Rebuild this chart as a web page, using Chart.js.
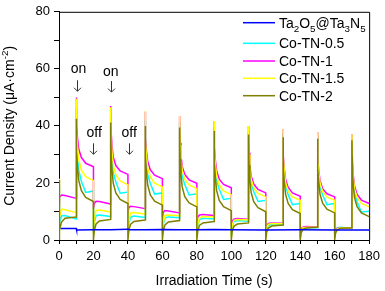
<!DOCTYPE html>
<html>
<head>
<meta charset="utf-8">
<script src="https://cdn.jsdelivr.net/npm/chart.js@4.4.1/dist/chart.umd.min.js"></script>
<style>
  html, body { margin: 0; padding: 0; background: #fff; }
  canvas { display: block; }
</style>
</head>
<body>
<canvas id="chart" width="385" height="291"></canvas>
<script>
// series names, as in the legend
const seriesNames = ['Ta₂O₅@Ta₃N₅', 'Co-TN-0.5', 'Co-TN-1', 'Co-TN-1.5', 'Co-TN-2'];
const seriesColors = ['#0000ff', '#00ffff', '#ff00ff', '#ffff00', '#808000'];

// bare Ta2O5@Ta3N5 film
const blueTime = [1, 10, 10.2, 20, 30, 40, 41, 50, 60, 70, 80, 90, 100, 120, 140, 160, 180];
const blueCurrent = [4.0, 4.0, 3.5, 3.6, 3.6, 3.8, 3.6, 3.6, 3.7, 3.6, 3.6, 3.7, 3.6, 3.5, 3.6, 3.5, 3.5];

// time axis for the Co-TN samples (light off 0-10, on 10-20, ...)
const time = [
    0,
    0, 0.5, 1.5, 3.5, 10,  10, 10.3, 10.8, 11.5, 13, 15.5, 20,
    20, 20.5, 21.5, 23.5, 30,  30, 30.3, 30.8, 31.5, 33, 35.5, 40,
    40, 40.5, 41.5, 43.5, 50,  50, 50.3, 50.8, 51.5, 53, 55.5, 60,
    60, 60.5, 61.5, 63.5, 70,  70, 70.3, 70.8, 71.5, 73, 75.5, 80,
    80, 80.5, 81.5, 83.5, 90,  90, 90.3, 90.8, 91.5, 93, 95.5, 100,
    100, 100.5, 101.5, 103.5, 110,  110, 110.3, 110.8, 111.5, 113, 115.5, 120,
    120, 120.5, 121.5, 123.5, 130,  130, 130.3, 130.8, 131.5, 133, 135.5, 140,
    140, 140.5, 141.5, 143.5, 150,  150, 150.3, 150.8, 151.5, 153, 155.5, 160,
    160, 160.5, 161.5, 163.5, 170,  170, 170.3, 170.8, 171.5, 173, 175.5, 180
];

const coTN05 = [
    19,
    3, 6, 8.4, 8.6, 7.4,  46, 34.5, 28.7, 24.4, 20.5, 16.7, 17.2,
    2.5, 6, 8.6, 8.8, 8.2,  44, 33.1, 27.7, 23.6, 20.3, 16.4, 16.8,
    2, 5.5, 8.0, 8.4, 7.9,  42, 31.8, 26.7, 22.9, 19.8, 16.1, 16.5,
    2, 5.5, 7.8, 8.1, 7.8,  41, 31.1, 26.1, 22.4, 19.4, 15.8, 16.2,
    1.5, 5, 7.2, 7.6, 7.4,  39.5, 29.5, 24.6, 20.8, 17.8, 14.2, 14.6,
    1.5, 4.6, 6.4, 6.8, 6.6,  38, 28.4, 23.5, 19.9, 17.0, 13.5, 13.9,
    1.5, 4.0, 5.1, 5.4, 5.3,  37, 27.3, 22.5, 18.9, 15.9, 12.4, 12.8,
    1, 3.2, 4.1, 4.3, 4.3,  36, 26.7, 22.1, 18.6, 15.8, 12.4, 12.8,
    1, 3.3, 4.3, 4.5, 4.0,  35.5, 25.3, 20.3, 16.5, 13.4, 9.8, 10.1
];

const coTN1 = [
    15.5,
    12.5, 15, 15.8, 15.6, 14.6,  50, 40.3, 35.4, 31.8, 28.9, 26.9, 25.7,
    11, 12.8, 13.6, 13.5, 12.6,  47, 37.4, 32.6, 29, 26.1, 24.2, 23,
    9.5, 11.3, 11.8, 11.7, 11.0,  45, 35.6, 30.9, 27.4, 24.6, 22.7, 21.5,
    8, 9.6, 10.3, 10.2, 9.5,  43.5, 34.1, 29.3, 25.8, 23.0, 21.1, 19.9,
    6, 8, 8.8, 8.9, 8.6,  41.7, 32.3, 27.7, 24.2, 21.3, 19.5, 18.3,
    5, 6.6, 7.3, 7.5, 7.3,  40, 30.6, 25.9, 22.4, 19.6, 17.7, 16.5,
    3.5, 5.0, 5.8, 6.0, 5.9,  38.8, 29.4, 24.7, 21.2, 18.4, 16.5, 15.3,
    2.5, 3.8, 4.5, 4.7, 4.6,  37.7, 28.7, 24.1, 20.8, 18.0, 16.2, 15.1,
    2, 3.5, 4.1, 4.3, 4.2,  37.1, 27.4, 22.5, 18.9, 16.0, 14.0, 12.8
];

const coTN15 = [
    21.5,
    2, 8, 10.8, 10.6, 9.6,  49.5, 38.0, 32.3, 28.0, 24.5, 22.2, 20.8,
    2, 7.5, 10.4, 10.5, 9.8,  46.5, 35.6, 30.2, 26.1, 22.8, 20.7, 19.3,
    1.5, 6.5, 9.4, 9.6, 9.1,  45.2, 34.6, 29.2, 25.3, 22.1, 19.9, 18.6,
    1.5, 6, 8.6, 8.8, 8.5,  43.5, 33.3, 28.2, 24.4, 21.3, 19.3, 18.0,
    1, 5.5, 7.8, 8.2, 8.1,  41.7, 31.4, 26.2, 22.4, 19.3, 17.2, 15.9,
    1, 5, 6.9, 7.2, 7.1,  40, 30.0, 25.1, 21.3, 18.3, 16.3, 15.1,
    1, 4.2, 5.5, 5.8, 5.7,  38.8, 28.8, 23.9, 20.1, 17.1, 15.1, 13.9,
    0.5, 3.2, 4.2, 4.5, 4.5,  37.7, 28.2, 23.4, 19.9, 17.0, 15.1, 13.9,
    0.5, 3, 4.0, 4.3, 4.3,  37.1, 26.9, 21.8, 18.0, 14.9, 12.9, 11.6
];

const coTN2 = [
    21,
    0, 3.5, 6.3, 7.6, 8.1,  42.5, 30.9, 25.1, 20.8, 17.3, 14.9, 13.5,
    0, 3.4, 5.6, 6.7, 7.2,  41.2, 29.8, 24.2, 19.9, 16.5, 14.2, 12.8,
    0, 3.3, 5.5, 6.5, 7.0,  40, 28.9, 23.3, 19.2, 15.8, 13.6, 12.2,
    0, 3.2, 5.3, 6.3, 6.8,  39.4, 28.3, 22.7, 18.6, 15.2, 13.0, 11.6,
    0, 3.1, 5.1, 6.0, 6.5,  38.2, 27.0, 21.5, 17.3, 13.9, 11.7, 10.3,
    0, 3, 4.8, 5.6, 6.0,  37, 26.2, 20.7, 16.7, 13.4, 11.3, 9.9,
    0, 2.7, 4.2, 4.9, 5.3,  36, 25.3, 20.0, 16.0, 12.8, 10.6, 9.3,
    0, 2.4, 3.7, 4.2, 4.5,  35.5, 25.1, 19.9, 16.0, 12.9, 10.8, 9.5,
    0, 2.4, 3.6, 4.1, 4.3,  35, 24.3, 18.9, 14.9, 11.7, 9.5, 8.2
];

// "on"/"off" notes and their arrows, in data units
const noteText = ['on', 'on', 'off', 'off'];
const noteX = [11.3, 30, 20.4, 40.7];
const noteY = [59.8, 58.8, 37.6, 37.6];
const arrowX = [10.4, 30, 20, 40.4];
const arrowY = [53.9, 53.6, 31.8, 31.8];

const FONT = "'Liberation Sans', Arial, sans-serif";

function toPoints(xs, ys) {
    return xs.map((x, i) => ({x: x, y: ys[i]}));
}

// draws text where unicode sub/superscript digits become small shifted glyphs
const subMap = {'₀':'0','₁':'1','₂':'2','₃':'3','₄':'4','₅':'5','₆':'6','₇':'7','₈':'8','₉':'9'};
const supMap = {'⁻':'-','²':'2','³':'3'};
function richParts(text) {
    const parts = [];
    for (const ch of text) {
        let mode = 0, c = ch;
        if (subMap[ch]) { mode = 1; c = subMap[ch]; }
        else if (supMap[ch]) { mode = -1; c = supMap[ch]; }
        const last = parts[parts.length - 1];
        if (last && last.mode === mode) last.t += c;
        else parts.push({t: c, mode: mode});
    }
    return parts;
}
function richWidth(ctx, parts, size) {
    let w = 0;
    parts.forEach(p => {
        ctx.font = (p.mode ? size * 0.7 : size) + 'px ' + FONT;
        w += ctx.measureText(p.t).width;
    });
    return w;
}
function drawRich(ctx, text, x, y, size) {
    const parts = richParts(text);
    ctx.textBaseline = 'alphabetic';
    ctx.textAlign = 'left';
    parts.forEach(p => {
        ctx.font = (p.mode ? size * 0.7 : size) + 'px ' + FONT;
        const dy = p.mode === 1 ? size * 0.3 : (p.mode === -1 ? -size * 0.42 : 0);
        ctx.fillText(p.t, x, y + dy);
        x += ctx.measureText(p.t).width;
    });
}

const extras = {
    id: 'extras',
    afterDraw(chart) {
        const {ctx, chartArea: a, scales: {x, y}} = chart;
        ctx.save();
        // box around the plot
        ctx.strokeStyle = '#000';
        ctx.lineWidth = 1;
        ctx.beginPath();
        ctx.moveTo(a.left, a.top + 0.5);
        ctx.lineTo(a.right + 0.5, a.top + 0.5);
        ctx.lineTo(a.right + 0.5, a.bottom);
        ctx.stroke();

        // notes
        ctx.fillStyle = '#000';
        ctx.font = '14px ' + FONT;
        ctx.textAlign = 'center';
        ctx.textBaseline = 'middle';
        noteText.forEach((t, i) => {
            ctx.fillText(t, x.getPixelForValue(noteX[i]), y.getPixelForValue(noteY[i]));
        });
        // thin down arrows
        ctx.strokeStyle = '#333';
        ctx.lineWidth = 1;
        arrowX.forEach((v, i) => {
            const px = Math.round(x.getPixelForValue(v)) + 0.5;
            const py = y.getPixelForValue(arrowY[i]);
            ctx.beginPath();
            ctx.moveTo(px, py - 6);
            ctx.lineTo(px, py + 5);
            ctx.moveTo(px - 3.5, py + 1.5);
            ctx.lineTo(px, py + 5);
            ctx.lineTo(px + 3.5, py + 1.5);
            ctx.stroke();
        });

        // legend
        const rows = [22.7, 43.3, 61, 78.3, 95.7];
        seriesNames.forEach((name, i) => {
            ctx.strokeStyle = seriesColors[i];
            ctx.lineWidth = 1.5;
            ctx.beginPath();
            ctx.moveTo(243, rows[i]);
            ctx.lineTo(275, rows[i]);
            ctx.stroke();
            ctx.fillStyle = '#000';
            drawRich(ctx, name, 279, rows[i] + 5, 14);
        });

        // y axis title
        const title = 'Current Density (μA·cm⁻²)';
        ctx.translate(14, (a.top + a.bottom) / 2);
        ctx.rotate(-Math.PI / 2);
        const w = richWidth(ctx, richParts(title), 14);
        drawRich(ctx, title, -w / 2, 0, 14);
        ctx.restore();
    }
};

const datasets = [
    {label: seriesNames[0], data: toPoints(blueTime, blueCurrent), borderColor: seriesColors[0], order: 0},
    {label: seriesNames[1], data: toPoints(time, coTN05), borderColor: seriesColors[1], order: 4},
    {label: seriesNames[2], data: toPoints(time, coTN1), borderColor: seriesColors[2], order: 3},
    {label: seriesNames[3], data: toPoints(time, coTN15), borderColor: seriesColors[3], order: 2},
    {label: seriesNames[4], data: toPoints(time, coTN2), borderColor: seriesColors[4], order: 1}
];
datasets.forEach(d => {
    d.borderWidth = 1.5;
    d.pointRadius = 0;
    d.fill = false;
    d.tension = 0;
});

new Chart(document.getElementById('chart'), {
    type: 'line',
    data: {datasets: datasets},
    options: {
        responsive: false,
        animation: false,
        devicePixelRatio: 1,
        layout: {padding: {top: 10, right: 14, left: 0, bottom: 0}},
        plugins: {legend: {display: false}, tooltip: {enabled: false}},
        scales: {
            x: {
                type: 'linear',
                min: 0,
                max: 180,
                afterFit(scale) { scale.height = 51; },
                ticks: {
                    stepSize: 10,
                    maxRotation: 0,
                    autoSkip: false,
                    padding: 5,
                    color: '#000',
                    font: {family: FONT, size: 13},
                    callback: v => (v % 20 === 0 ? v : '')
                },
                grid: {drawOnChartArea: false, tickLength: 4, color: '#000'},
                border: {color: '#000', width: 1},
                title: {
                    display: true,
                    text: 'Irradiation Time (s)',
                    color: '#000',
                    font: {family: FONT, size: 14},
                    padding: {top: 0, bottom: 1}
                }
            },
            y: {
                min: 0,
                max: 80,
                afterFit(scale) { scale.width = 59; },
                ticks: {
                    stepSize: 10,
                    autoSkip: false,
                    padding: 4,
                    color: '#000',
                    font: {family: FONT, size: 13},
                    callback: v => (v % 20 === 0 ? v : '')
                },
                grid: {drawOnChartArea: false, tickLength: 5, color: '#000'},
                border: {color: '#000', width: 1}
            }
        }
    },
    plugins: [extras]
});
</script>
</body>
</html>
